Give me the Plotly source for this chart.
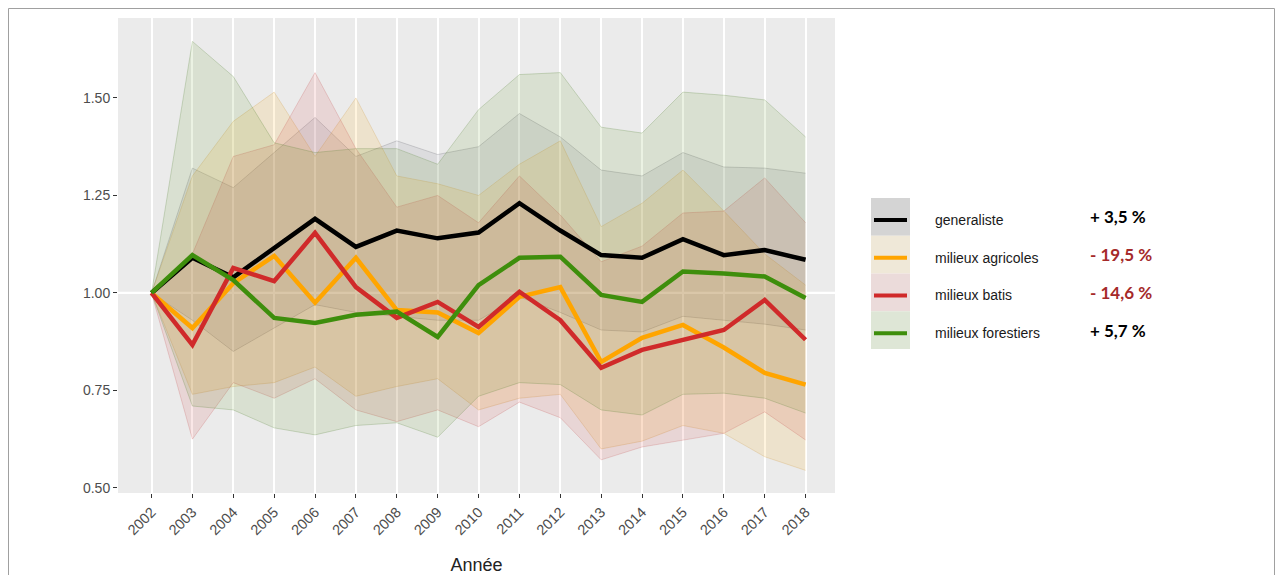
import plotly.graph_objects as go

years = list(range(2002, 2019))

series_names = ["generaliste", "milieux agricoles", "milieux batis", "milieux forestiers"]
changes = ["+ 3,5 %", "- 19,5 %", "- 14,6 %", "+ 5,7 %"]

gen_mid = [1.00, 1.09, 1.04, 1.115, 1.19, 1.118, 1.16, 1.14, 1.155, 1.23, 1.16, 1.097, 1.09, 1.138, 1.097, 1.11, 1.085]
gen_up = [1.00, 1.32, 1.27, 1.36, 1.45, 1.35, 1.39, 1.355, 1.375, 1.46, 1.40, 1.315, 1.30, 1.36, 1.323, 1.32, 1.307]
gen_lo = [1.00, 0.93, 0.85, 0.91, 0.97, 0.95, 0.94, 0.93, 0.93, 0.99, 0.95, 0.905, 0.90, 0.94, 0.93, 0.92, 0.905]

agr_mid = [1.00, 0.91, 1.025, 1.095, 0.975, 1.09, 0.956, 0.95, 0.897, 0.99, 1.015, 0.823, 0.885, 0.918, 0.86, 0.795, 0.765]
agr_up = [1.00, 1.30, 1.44, 1.515, 1.35, 1.50, 1.30, 1.28, 1.25, 1.33, 1.39, 1.17, 1.23, 1.315, 1.21, 1.10, 1.02]
agr_lo = [1.00, 0.74, 0.76, 0.77, 0.81, 0.735, 0.76, 0.78, 0.70, 0.73, 0.74, 0.60, 0.62, 0.66, 0.64, 0.58, 0.545]

bat_mid = [1.00, 0.867, 1.064, 1.03, 1.154, 1.015, 0.936, 0.977, 0.913, 1.003, 0.93, 0.808, 0.854, 0.88, 0.905, 0.982, 0.88]
bat_up = [1.00, 1.10, 1.35, 1.38, 1.565, 1.37, 1.22, 1.25, 1.18, 1.30, 1.20, 1.08, 1.12, 1.205, 1.21, 1.295, 1.18]
bat_lo = [1.00, 0.625, 0.77, 0.73, 0.78, 0.70, 0.67, 0.70, 0.657, 0.72, 0.68, 0.572, 0.605, 0.623, 0.64, 0.695, 0.623]

for_mid = [1.00, 1.097, 1.033, 0.936, 0.923, 0.944, 0.952, 0.887, 1.02, 1.09, 1.093, 0.995, 0.977, 1.055, 1.05, 1.042, 0.987]
for_up = [1.00, 1.645, 1.555, 1.385, 1.36, 1.37, 1.37, 1.33, 1.47, 1.56, 1.565, 1.425, 1.41, 1.515, 1.507, 1.495, 1.40]
for_lo = [1.00, 0.71, 0.70, 0.654, 0.636, 0.66, 0.667, 0.63, 0.735, 0.77, 0.765, 0.70, 0.687, 0.74, 0.743, 0.73, 0.692]

y_ticks = [0.50, 0.75, 1.00, 1.25, 1.50]
y_tick_text = ["0.50", "0.75", "1.00", "1.25", "1.50"]

line_colors = ["#000000", "#FFA500", "#D02A2A", "#3E8E0C"]
fill_colors = ["rgba(100,100,120,0.11)", "rgba(255,170,0,0.13)", "rgba(210,40,40,0.11)", "rgba(70,140,0,0.11)"]
edge_colors = ["rgba(80,80,90,0.22)", "rgba(200,140,40,0.22)", "rgba(190,60,60,0.2)", "rgba(70,120,30,0.22)"]
key_colors = ["#D4D4D4", "#EFE8D8", "#EBDBDA", "#DEE6D6"]
change_colors = ["#000000", "#A52A2A", "#A52A2A", "#000000"]

mids = [gen_mid, agr_mid, bat_mid, for_mid]
ups = [gen_up, agr_up, bat_up, for_up]
los = [gen_lo, agr_lo, bat_lo, for_lo]

fig = go.Figure()

for i in range(4):
    fig.add_trace(go.Scatter(x=years, y=ups[i], mode="lines",
                             line=dict(color=edge_colors[i], width=1),
                             showlegend=False, hoverinfo="skip"))
    fig.add_trace(go.Scatter(x=years, y=los[i], mode="lines", fill="tonexty",
                             fillcolor=fill_colors[i],
                             line=dict(color=edge_colors[i], width=1),
                             showlegend=False, hoverinfo="skip"))

for i in range(4):
    fig.add_trace(go.Scatter(x=years, y=mids[i], mode="lines", name=series_names[i],
                             line=dict(color=line_colors[i], width=4.5),
                             showlegend=False))

# figure size (page has an 8px body margin)
W, H = 1267, 567
OFF = 8
# plot area in screen pixels of the reference
L, R, T, B = 118 - OFF, 835 - OFF, 18 - OFF, 493 - OFF
PW, PH = R - L, B - T

def px(x):
    return (x - OFF - L) / PW

def py(y):
    return (B - (y - OFF)) / PH

shapes = []
shapes.append(dict(type="line", xref="paper", yref="y", x0=0, x1=1, y0=1.0, y1=1.0,
                   line=dict(color="white", width=2.2), layer="below"))
shapes.append(dict(type="rect", xref="paper", yref="paper",
                   x0=px(8.5), x1=px(1274.5), y0=py(600), y1=py(8.5),
                   line=dict(color="#A0A0A0", width=1)))

annotations = []
box_top, box_h = 198, 37.75
for i in range(4):
    y0 = box_top + i * box_h
    y1 = y0 + box_h
    yc = (y0 + y1) / 2
    shapes.append(dict(type="rect", xref="paper", yref="paper",
                       x0=px(871), x1=px(910), y0=py(y1), y1=py(y0),
                       fillcolor=key_colors[i], line=dict(width=0)))
    shapes.append(dict(type="line", xref="paper", yref="paper",
                       x0=px(874), x1=px(907), y0=py(yc + 3), y1=py(yc + 3),
                       line=dict(color=line_colors[i], width=4)))
    annotations.append(dict(xref="paper", yref="paper", x=px(933), y=py(yc + 3),
                            text=series_names[i], showarrow=False, xanchor="left",
                            yanchor="middle",
                            font=dict(family="Liberation Sans, Arial", size=14, color="#1a1a1a")))
    annotations.append(dict(xref="paper", yref="paper", x=px(1088), y=py(yc),
                            text="<b>" + changes[i] + "</b>", showarrow=False, xanchor="left",
                            yanchor="middle",
                            font=dict(family="Lato, Liberation Sans", size=17, color=change_colors[i])))

fig.update_layout(
    width=W, height=H,
    margin=dict(l=L, r=W - R, t=T, b=H - B),
    paper_bgcolor="white",
    plot_bgcolor="#EBEBEB",
    shapes=shapes,
    annotations=annotations,
    showlegend=False,
    xaxis=dict(range=[2001.18, 2018.72], tickmode="array", tickvals=years,
               ticktext=[str(y) for y in years], tickangle=-45,
               showgrid=True, gridcolor="white", gridwidth=1.6,
               ticks="outside", ticklen=4, tickcolor="#333333", tickwidth=1,
               tickfont=dict(family="Liberation Sans, Arial", size=14.5, color="#4D4D4D"),
               zeroline=False, showline=False, automargin=False,
               title=dict(text="Année", standoff=22,
                          font=dict(family="Liberation Sans, Arial", size=18, color="#222222"))),
    yaxis=dict(range=[0.487, 1.705], tickmode="array", tickvals=y_ticks, ticktext=y_tick_text,
               showgrid=False, zeroline=False, showline=False,
               ticks="outside", ticklen=4, tickcolor="#333333", tickwidth=1,
               tickfont=dict(family="Liberation Sans, Arial", size=14, color="#4D4D4D"),
               automargin=False),
)

fig.write_html("out.html")
